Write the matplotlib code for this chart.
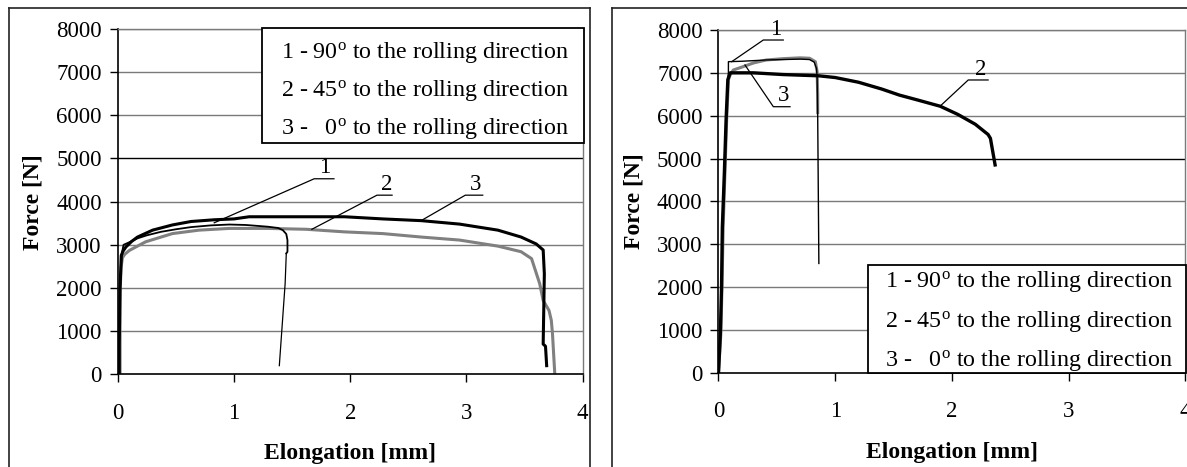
import matplotlib
matplotlib.use('Agg')
import matplotlib.pyplot as plt
from matplotlib.lines import Line2D
from matplotlib.patches import Rectangle

plt.rcParams['font.family'] = ['Liberation Serif', 'DejaVu Serif']
plt.rcParams['mathtext.fontset'] = 'custom'
plt.rcParams['mathtext.rm'] = 'Liberation Serif'
plt.rcParams['mathtext.it'] = 'Liberation Serif:italic'
plt.rcParams['mathtext.bf'] = 'Liberation Serif:bold'

# ---------------- data: left panel ----------------
L1_x = [0, 0.01, 0.02, 0.035, 0.05, 0.1, 0.17, 0.25, 0.37, 0.5, 0.63, 0.8, 0.96, 1.1, 1.29, 1.38, 1.42, 1.45, 1.46, 1.46, 1.45]
L1_y = [0, 700, 2000, 2800, 3000, 3060, 3150, 3220, 3300, 3360, 3410, 3450, 3470, 3460, 3420, 3390, 3340, 3250, 3110, 2840, 2800]
L1_tail_x = [1.45, 1.44, 1.39]
L1_tail_y = [2800, 2100, 200]

L2_x = [0, 0.02, 0.02, 0.03, 0.04, 0.06, 0.1, 0.24, 0.47, 0.7, 0.96, 1.29, 1.62, 1.95, 2.28, 2.61, 2.94, 3.27, 3.47, 3.56, 3.63, 3.66, 3.71, 3.73, 3.74, 3.76]
L2_y = [0, 0, 1950, 2500, 2700, 2780, 2870, 3070, 3260, 3340, 3380, 3380, 3360, 3300, 3260, 3180, 3110, 2970, 2840, 2680, 2100, 1710, 1480, 1250, 940, 0]

L3_x = [0, 0.013, 0.013, 0.02, 0.03, 0.045, 0.07, 0.12, 0.17, 0.3, 0.47, 0.63, 0.83, 1.0, 1.13, 1.5, 1.95, 2.28, 2.61, 2.94, 3.27, 3.47, 3.6, 3.66, 3.67, 3.665, 3.66, 3.68, 3.69]
L3_y = [0, 0, 700, 2000, 2750, 2850, 2950, 3080, 3180, 3340, 3460, 3540, 3580, 3600, 3650, 3650, 3650, 3600, 3560, 3480, 3340, 3180, 3020, 2880, 2330, 1500, 700, 650, 200]

# ---------------- data: right panel ----------------
R1_x = [0, 0.016, 0.026, 0.033, 0.05, 0.065, 0.08, 0.085, 0.085, 0.2, 0.41, 0.7, 0.78, 0.82, 0.84, 0.845, 0.85, 0.86]
R1_y = [0, 920, 2000, 3400, 4650, 5900, 6840, 7000, 7260, 7270, 7300, 7320, 7310, 7250, 7100, 6900, 6000, 2550]

R2_x = [0, 0.016, 0.026, 0.033, 0.05, 0.065, 0.08, 0.1, 0.3, 0.55, 0.86, 1.0, 1.2, 1.4, 1.55, 1.7, 1.9, 2.05, 2.2, 2.31, 2.33, 2.37]
R2_y = [0, 920, 2000, 3400, 4650, 5900, 6840, 7000, 7000, 6960, 6930, 6890, 6780, 6620, 6480, 6370, 6220, 6030, 5800, 5560, 5470, 4850]

R3_x = [0, 0.02, 0.03, 0.04, 0.055, 0.07, 0.085, 0.1, 0.127, 0.21, 0.3, 0.41, 0.55, 0.7, 0.78, 0.83, 0.845, 0.85, 0.85]
R3_y = [0, 900, 2000, 3400, 4650, 5900, 6840, 6950, 7066, 7143, 7230, 7300, 7330, 7350, 7340, 7260, 7030, 6500, 6070]

x_ticks = [0, 1, 2, 3, 4]
y_ticks = [0, 1000, 2000, 3000, 4000, 5000, 6000, 7000, 8000]
legend_lines = [r'1 - 90$^{\mathrm{o}}$ to the rolling direction',
                r'2 - 45$^{\mathrm{o}}$ to the rolling direction',
                r'3 -   0$^{\mathrm{o}}$ to the rolling direction']
x_label = 'Elongation [mm]'
y_label = 'Force [N]'

# annotation leaders: (label, point on curve, elbow, end of horizontal, label pos)
L_ann = [('1', (0.83, 3510), (1.69, 4530), (1.86, 4530), (1.78, 4540)),
         ('2', (1.67, 3360), (2.23, 4150), (2.36, 4150), (2.31, 4160)),
         ('3', (2.61, 3560), (2.99, 4150), (3.14, 4150), (3.08, 4160))]
R_ann = [('1', (0.113, 7260), (0.384, 7766), (0.555, 7766), (0.49, 7760)),
         ('3', (0.227, 7183), (0.47, 6209), (0.613, 6209), (0.56, 6220)),
         ('2', (1.90, 6225), (2.14, 6833), (2.31, 6833), (2.25, 6840))]

GRAY = '#808080'
GRID = '#7a7a7a'
FS = 16.5
LFS = 17.3

fig = plt.figure(figsize=(11.87, 4.67), dpi=100)
ax1 = fig.add_axes([0.0992, 0.1985, 0.3917, 0.7394])
ax2 = fig.add_axes([0.6053, 0.2019, 0.3933, 0.7339])


def style(ax):
    ax.set_xlim(0, 4)
    ax.set_ylim(0, 8000)
    ax.set_xticks(x_ticks)
    ax.set_yticks(y_ticks)
    for y in y_ticks[1:]:
        ax.axhline(y, color='black' if y == 5000 else GRID, lw=1.0, zorder=0.5)
    ax.spines['top'].set_color(GRID)
    ax.spines['right'].set_color(GRID)
    ax.spines['top'].set_linewidth(1.0)
    ax.spines['right'].set_linewidth(1.0)
    ax.spines['left'].set_linewidth(1.2)
    ax.spines['bottom'].set_linewidth(1.2)
    ax.tick_params(axis='both', direction='out', length=5.5, width=1.0, labelsize=FS)
    ax.tick_params(axis='x', pad=15)
    ax.tick_params(axis='y', pad=6)
    ax.set_xlabel(x_label, fontsize=17, fontweight='bold', labelpad=14)
    ax.set_ylabel(y_label, fontsize=17, fontweight='bold', labelpad=9)


def legend_box(ax, x0, y0, x1, y1, tx, tys):
    ax.add_patch(Rectangle((x0, y0), x1 - x0, y1 - y0, transform=ax.transAxes,
                           facecolor='white', edgecolor='black', lw=1.3,
                           zorder=5, clip_on=False))
    for t, ty in zip(legend_lines, tys):
        ax.text(tx, ty, t, transform=ax.transAxes, fontsize=LFS, va='center',
                ha='left', zorder=6)


def annotate(ax, anns):
    for lab, p, e, h, lp in anns:
        ax.plot([p[0], e[0], h[0]], [p[1], e[1], h[1]], color='black', lw=0.9, zorder=4)
        ax.text(lp[0], lp[1], lab, fontsize=FS, ha='center', va='bottom', zorder=4)


style(ax1)
style(ax2)

# left panel curves
ax1.plot(L2_x, L2_y, color=GRAY, lw=2.2, zorder=2)
ax1.plot(L3_x, L3_y, color='black', lw=2.2, zorder=3)
ax1.plot(L1_x, L1_y, color='black', lw=1.3, zorder=3)
ax1.plot(L1_tail_x, L1_tail_y, color='black', lw=0.9, zorder=3)
annotate(ax1, L_ann)
legend_box(ax1, 0.311, 0.6707, 1.002, 1.002, 0.352, [0.933, 0.823, 0.712])

# right panel curves
ax2.plot(R3_x, R3_y, color=GRAY, lw=2.2, zorder=2)
ax2.plot(R1_x, R1_y, color='black', lw=1.0, zorder=3)
ax2.plot(R2_x, R2_y, color='black', lw=2.4, zorder=3)
annotate(ax2, R_ann)
legend_box(ax2, 0.32, 0.0, 1.0015, 0.314, 0.357, [0.2655, 0.149, 0.037])

# outer panel frames
W, H = 1187.0, 467.0
for xs, ys in [([9, 9], [8, H]), ([9, 590], [8, 8]), ([590, 590], [8, H]),
               ([612, 612], [8, H]), ([612, W], [8, 8])]:
    fig.add_artist(Line2D([x / W for x in xs], [1 - y / H for y in ys],
                          transform=fig.transFigure, color='#222222', lw=1.2))

fig.savefig('out.png', dpi=100)
